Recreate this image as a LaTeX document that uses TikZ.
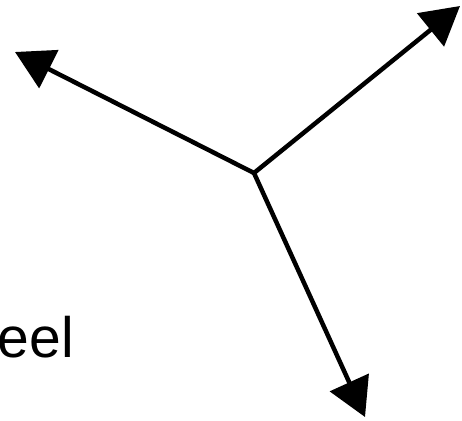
\documentclass[tikz,border=0pt]{standalone}
\usepackage{fontspec}
\setmainfont{Liberation Sans}
\usetikzlibrary{arrows.meta}
\tikzset{
  vec/.style={line width=4.5pt, -{Triangle[length=38pt,width=42pt]}},
  lbl/.style={inner sep=0pt, anchor=base east, font=\fontsize{57}{57}\selectfont}
}
\begin{document}
\begin{tikzpicture}[x=1pt,y=-1pt]
\useasboundingbox (0,0) rectangle (462,420);
\coordinate (c) at (254,173);
\coordinate (ul) at (15,52);
\coordinate (ur) at (460,6);
\coordinate (bt) at (365,417);
\draw[vec] (c) -- (ul);
\draw[vec] (c) -- (ur);
\draw[vec] (c) -- (bt);
\node[lbl] (t) at (74,357) {eel};
\end{tikzpicture}
\end{document}
